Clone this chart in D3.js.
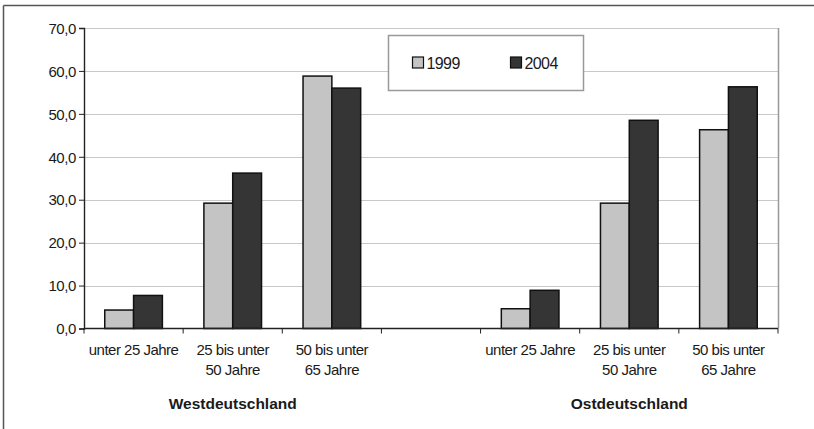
<!DOCTYPE html>
<html>
<head>
<meta charset="utf-8">
<script src="https://cdn.jsdelivr.net/npm/d3@7/dist/d3.min.js"></script>
<style>
  body { margin: 0; background: #fff; }
  svg text { font-family: "Liberation Sans", Arial, sans-serif; fill: #1a1a1a; }
</style>
</head>
<body>
<div id="chart"></div>
<script>
// chart data
var slots = ["w1", "w2", "w3", "gap", "o1", "o2", "o3"];
var slotLabels = [["unter 25 Jahre"], ["25 bis unter", "50 Jahre"], ["50 bis unter", "65 Jahre"], [],
                  ["unter 25 Jahre"], ["25 bis unter", "50 Jahre"], ["50 bis unter", "65 Jahre"]];
var series = ["1999", "2004"];
var values1999 = [4.3, 29.2, 58.8, null, 4.6, 29.2, 46.3];
var values2004 = [7.7, 36.2, 56.0, null, 8.9, 48.5, 56.3];
var regions = ["Westdeutschland", "Ostdeutschland"];
var regionSlots = [["w1", "w2", "w3"], ["o1", "o2", "o3"]];
var yTicks = [0, 10, 20, 30, 40, 50, 60, 70];

var colours = {"1999": "#c4c4c4", "2004": "#353535"};

var width = 814, height = 429;
var margin = {left: 84, right: 36, top: 28, bottom: 100};

var svg = d3.select("#chart").append("svg")
    .attr("width", width)
    .attr("height", height);

// outer frame (top and left edges visible)
svg.append("line").attr("x1", 3.5).attr("x2", width).attr("y1", 5.5).attr("y2", 5.5)
    .style("stroke", "#555").style("stroke-width", 1.5);
svg.append("line").attr("x1", 3.5).attr("x2", 3.5).attr("y1", 5.5).attr("y2", height)
    .style("stroke", "#555").style("stroke-width", 1.5);

var x = d3.scaleBand()
    .domain(slots)
    .range([margin.left, width - margin.right]);

var xInner = d3.scaleBand()
    .domain(series)
    .range([0, x.bandwidth()])
    .paddingOuter(0.72)
    .paddingInner(0);

var y = d3.scaleLinear()
    .domain([0, 70])
    .range([height - margin.bottom - 0.5, margin.top]);

// gridlines
svg.append("g").selectAll("line")
    .data(yTicks.slice(1))
    .enter().append("line")
    .attr("x1", margin.left).attr("x2", width - margin.right)
    .attr("y1", function(d) { return Math.round(y(d)) + 0.5; })
    .attr("y2", function(d) { return Math.round(y(d)) + 0.5; })
    .style("stroke", "#c8c8c8");

// plot area right edge
svg.append("line")
    .attr("x1", width - margin.right + 0.5).attr("x2", width - margin.right + 0.5)
    .attr("y1", margin.top).attr("y2", y(0))
    .style("stroke", "#999").style("stroke-width", 1.5);

// bars
var rows = slots.map(function(s, i) {
    return {slot: s, vals: [values1999[i], values2004[i]]};
}).filter(function(r) { return r.vals[0] !== null; });

var groups = svg.append("g").selectAll("g")
    .data(rows)
    .enter().append("g")
    .attr("transform", function(d) { return "translate(" + x(d.slot) + ",0)"; });

groups.selectAll("rect")
    .data(function(d) { return series.map(function(s, i) { return {key: s, value: d.vals[i]}; }); })
    .enter().append("rect")
    .attr("x", function(d) { return xInner(d.key); })
    .attr("width", xInner.bandwidth())
    .attr("y", function(d) { return y(d.value); })
    .attr("height", function(d) { return y(0) - y(d.value); })
    .style("fill", function(d) { return colours[d.key]; })
    .style("stroke", "#111")
    .style("stroke-width", 1.5);

// y axis
var yAxis = svg.append("g")
    .attr("transform", "translate(" + margin.left + ",0)")
    .call(d3.axisLeft(y)
        .tickValues(yTicks)
        .tickSize(5)
        .tickFormat(function(d) { return d3.format(".1f")(d).replace(".", ","); }));
yAxis.select(".domain").style("stroke", "#222").style("stroke-width", 1.4);
yAxis.selectAll(".tick line").style("stroke", "#222");
yAxis.selectAll("text").style("font-size", "15px").style("letter-spacing", "-0.4px")
    .attr("x", -8).attr("dy", "0.35em");

// x axis with ticks at the slot boundaries
var xAxisG = svg.append("g");
xAxisG.append("line")
    .attr("x1", margin.left).attr("x2", width - margin.right)
    .attr("y1", y(0)).attr("y2", y(0))
    .style("stroke", "#222").style("stroke-width", 1.4);
var bounds = slots.map(function(s) { return x(s); }).concat([width - margin.right]);
xAxisG.selectAll(".xt")
    .data(bounds)
    .enter().append("line")
    .attr("class", "xt")
    .attr("x1", function(d) { return d; }).attr("x2", function(d) { return d; })
    .attr("y1", y(0)).attr("y2", y(0) + 5)
    .style("stroke", "#222");

// category labels
var labelG = svg.append("g").selectAll("text")
    .data(slots)
    .enter().append("text")
    .attr("text-anchor", "middle")
    .attr("x", function(d) { return x(d) + x.bandwidth() / 2; })
    .attr("y", y(0) + 26)
    .style("font-size", "15px")
    .style("letter-spacing", "-0.5px");
labelG.each(function(d, i) {
    var t = d3.select(this);
    slotLabels[i].forEach(function(line, j) {
        t.append("tspan")
            .attr("x", x(d) + x.bandwidth() / 2)
            .attr("dy", j === 0 ? 0 : 20)
            .text(line);
    });
});

// region labels
svg.append("g").selectAll("text")
    .data(regions)
    .enter().append("text")
    .attr("text-anchor", "middle")
    .attr("x", function(d, i) {
        var s = regionSlots[i];
        return (x(s[0]) + x(s[2]) + x.bandwidth()) / 2;
    })
    .attr("y", y(0) + 80)
    .style("font-size", "15.5px")
    .style("font-weight", "bold")
    .text(function(d) { return d; });

// legend
var legend = svg.append("g").attr("transform", "translate(388.5,35.5)");
legend.append("rect")
    .attr("width", 195).attr("height", 55)
    .style("fill", "#fff")
    .style("stroke", "#999")
    .style("stroke-width", 1.5);
var items = legend.selectAll("g")
    .data(series)
    .enter().append("g")
    .attr("transform", function(d, i) { return "translate(" + (24 + i * 98) + ",21.5)"; });
items.append("rect")
    .attr("width", 11).attr("height", 11)
    .style("fill", function(d) { return colours[d]; })
    .style("stroke", "#111")
    .style("stroke-width", 1.2);
items.append("text")
    .attr("x", 14).attr("y", 11.5)
    .style("font-size", "16px")
    .style("letter-spacing", "-0.6px")
    .text(function(d) { return d; });
</script>
</body>
</html>
